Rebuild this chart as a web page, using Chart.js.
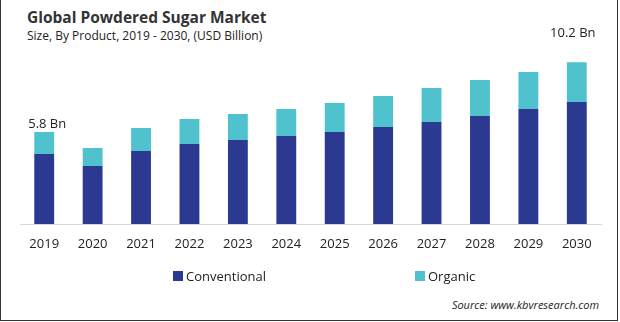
<!DOCTYPE html>
<html>
<head>
<meta charset="utf-8">
<script src="https://cdn.jsdelivr.net/npm/chart.js@4.4.1/dist/chart.umd.min.js"></script>
<style>
  body { margin: 0; background: #fff; font-family: "Open Sans", sans-serif; }
  #wrap { position: relative; width: 616px; height: 320px; border-left: 1px solid #333; border-right: 1px solid #333; border-bottom: 1px solid #333; overflow: hidden; }
  #title { position: absolute; left: 26px; top: 6px; font-size: 15.5px; font-weight: bold; color: #333; }
  #subtitle { position: absolute; left: 26px; top: 27px; font-size: 12px; color: #222; }
  #source { position: absolute; right: 18px; top: 297px; font-size: 11px; font-style: italic; color: #222; }
  #legend { position: absolute; top: 267px; left: 0; width: 616px; height: 20px; }
  .item { position: absolute; font-size: 13px; color: #222; display: flex; align-items: center; }
  .box { width: 10px; height: 10px; margin-right: 3px; }
  canvas { position: absolute; left: -1px; top: 0; }
</style>
</head>
<body>
<div id="wrap">
  <div id="title">Global Powdered Sugar Market</div>
  <div id="subtitle">Size, By Product, 2019 - 2030, (USD Billion)</div>
  <canvas id="marketChart" width="620" height="272"></canvas>
  <div id="legend"></div>
  <div id="source">Source: www.kbvresearch.com</div>
</div>
<script>
// Dados do gráfico (USD bilhões)
const anos = ['2019', '2020', '2021', '2022', '2023', '2024', '2025', '2026', '2027', '2028', '2029', '2030'];
const convencional = [4.41, 3.65, 4.60, 5.04, 5.29, 5.55, 5.80, 6.11, 6.43, 6.81, 7.25, 7.69];
const organico = [1.39, 1.14, 1.45, 1.58, 1.64, 1.70, 1.82, 1.96, 2.14, 2.26, 2.33, 2.51];
const nomesSeries = ['Conventional', 'Organic'];
const cores = ['#2b3990', '#4fc2cd'];
const rotulos = { 0: '5.8 Bn', 11: '10.2 Bn' };

// Rótulos de total acima das barras
const rotulosPlugin = {
    id: 'rotulos',
    afterDatasetsDraw(chart) {
        const ctx = chart.ctx;
        const x = chart.scales.x;
        const y = chart.scales.y;
        ctx.save();
        ctx.font = '13px "Open Sans", sans-serif';
        ctx.fillStyle = '#222';
        ctx.textAlign = 'center';
        ctx.textBaseline = 'middle';
        for (const i in rotulos) {
            const total = convencional[i] + organico[i];
            const px = x.getPixelForValue(Number(i));
            const py = y.getPixelForValue(total);
            const ultimo = Number(i) === 11;
            ctx.fillText(rotulos[i], px + (ultimo ? -4 : 3), py - (ultimo ? 29 : 8));
        }
        ctx.restore();
    }
};

const ctx = document.getElementById('marketChart').getContext('2d');
const grafico = new Chart(ctx, {
    type: 'bar',
    data: {
        labels: anos,
        datasets: [
            { label: nomesSeries[0], data: convencional, backgroundColor: cores[0] },
            { label: nomesSeries[1], data: organico, backgroundColor: cores[1] }
        ]
    },
    options: {
        responsive: false,
        animation: false,
        layout: { padding: { left: 20, right: 19, top: 33.6, bottom: 8.4 } },
        plugins: {
            legend: { display: false },
            tooltip: { enabled: false }
        },
        datasets: { bar: { categoryPercentage: 1, barPercentage: 0.41 } },
        scales: {
            x: {
                stacked: true,
                grid: { display: false, drawTicks: false },
                border: { display: true, color: '#d9d9d9' },
                ticks: { color: '#222', font: { family: '"Open Sans", sans-serif', size: 13 }, padding: 12, maxRotation: 0 }
            },
            y: {
                stacked: true,
                display: false,
                min: 0,
                max: 12
            }
        }
    },
    plugins: [rotulosPlugin]
});

// Legenda em HTML
const legenda = document.getElementById('legend');
const posLegenda = [172, 414];
nomesSeries.forEach((nome, i) => {
    const item = document.createElement('div');
    item.className = 'item';
    item.style.left = posLegenda[i] + 'px';
    item.innerHTML = '<span class="box" style="background:' + cores[i] + '"></span>' + nome;
    legenda.appendChild(item);
});
</script>
</body>
</html>
